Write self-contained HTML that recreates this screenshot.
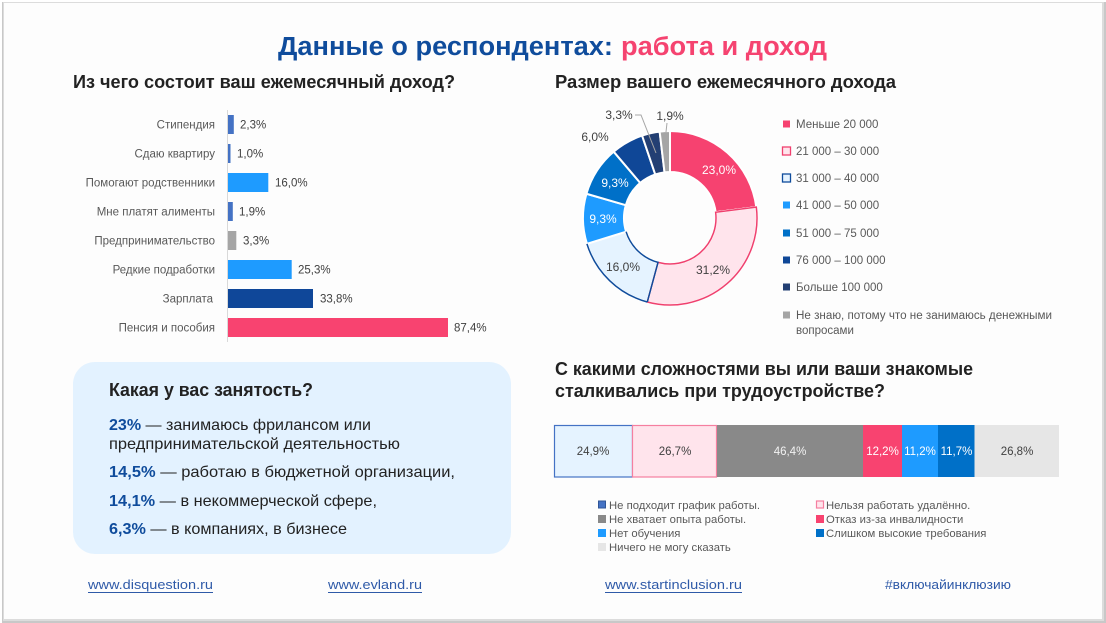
<!DOCTYPE html>
<html>
<head>
<meta charset="utf-8">
<style>
  html,body{margin:0;padding:0;background:#ffffff;}
  body{width:1106px;height:623px;overflow:hidden;}
  svg{display:block;}
  text{font-family:"Liberation Sans","Noto Sans CJK SC",sans-serif;}
</style>
</head>
<body>
<svg width="1106" height="623" viewBox="0 0 1106 623" xmlns="http://www.w3.org/2000/svg">
  <!-- slide frame / shadow -->
  <rect x="0" y="0" width="1106" height="623" fill="#ffffff"/>
  <rect x="2" y="2" width="1104" height="621" fill="#c8c8c8"/>
  <rect x="3" y="2" width="1101" height="619" fill="#dcdcdc"/>
  <rect x="4" y="3" width="1098" height="616" fill="#fdfdfd"/>

  <!-- Title -->
  <text x="278" y="55" font-size="25.5" font-weight="bold" fill="#0f4c9c" textLength="335" lengthAdjust="spacingAndGlyphs">Данные о респондентах:</text>
  <text x="621" y="55" font-size="25.5" font-weight="bold" fill="#f54370" textLength="206" lengthAdjust="spacingAndGlyphs">работа и доход</text>

  <!-- Section headings -->
  <text x="73" y="88" font-size="18" font-weight="bold" fill="#222222" textLength="382" lengthAdjust="spacingAndGlyphs">Из чего состоит ваш ежемесячный доход?</text>
  <text x="555" y="88" font-size="18" font-weight="bold" fill="#222222" textLength="341" lengthAdjust="spacingAndGlyphs">Размер вашего ежемесячного дохода</text>
  <text x="555" y="375" font-size="18" font-weight="bold" fill="#222222" textLength="418" lengthAdjust="spacingAndGlyphs">С какими сложностями вы или ваши знакомые</text>
  <text x="555" y="397" font-size="18" font-weight="bold" fill="#222222" textLength="330" lengthAdjust="spacingAndGlyphs">сталкивались при трудоустройстве?</text>

  <!-- Bar chart -->
  <line x1="227.5" y1="110" x2="227.5" y2="342" stroke="#d9d9d9" stroke-width="1"/>
  <g font-size="11.5" fill="#595959" text-anchor="end">
    <text x="215" y="128.5">Стипендия</text>
    <text x="215" y="157.5">Сдаю квартиру</text>
    <text x="215" y="186.5">Помогают родственники</text>
    <text x="215" y="215.5">Мне платят алименты</text>
    <text x="215" y="244.5">Предпринимательство</text>
    <text x="215" y="273.5">Редкие подработки</text>
    <text x="213" y="302.5">Зарплата</text>
    <text x="215" y="331.5">Пенсия и пособия</text>
  </g>
  <rect x="228" y="115" width="5.8" height="19" fill="#4472c4"/>
  <rect x="228" y="144" width="2.5" height="19" fill="#4472c4"/>
  <rect x="228" y="173" width="40.3" height="19" fill="#1e9bff"/>
  <rect x="228" y="202" width="4.8" height="19" fill="#4472c4"/>
  <rect x="228" y="231" width="8.3" height="19" fill="#a5a5a5"/>
  <rect x="228" y="260" width="63.7" height="19" fill="#1e9bff"/>
  <rect x="228" y="289" width="85" height="19" fill="#0f4799"/>
  <rect x="228" y="318" width="220" height="19" fill="#f84370"/>
  <g font-size="11.5" fill="#404040">
    <text x="240" y="128.5">2,3%</text>
    <text x="237" y="157.5">1,0%</text>
    <text x="275" y="186.5">16,0%</text>
    <text x="239" y="215.5">1,9%</text>
    <text x="243" y="244.5">3,3%</text>
    <text x="298" y="273.5">25,3%</text>
    <text x="320" y="302.5">33,8%</text>
    <text x="454" y="331.5">87,4%</text>
  </g>

  <!-- Employment box -->
  <rect x="73" y="362" width="438" height="192" rx="22" ry="22" fill="#e3f2ff"/>
  <text x="109" y="396" font-size="18" font-weight="bold" fill="#222222" textLength="204" lengthAdjust="spacingAndGlyphs">Какая у вас занятость?</text>
  <g font-size="16" fill="#222222">
    <text x="109" y="430" textLength="262" lengthAdjust="spacingAndGlyphs"><tspan font-weight="bold" fill="#0f4c9c">23%</tspan> — занимаюсь фрилансом или</text>
    <text x="109" y="449" textLength="291" lengthAdjust="spacingAndGlyphs">предпринимательской деятельностью</text>
    <text x="109" y="477" textLength="346" lengthAdjust="spacingAndGlyphs"><tspan font-weight="bold" fill="#0f4c9c">14,5%</tspan> — работаю в бюджетной организации,</text>
    <text x="109" y="506" textLength="268" lengthAdjust="spacingAndGlyphs"><tspan font-weight="bold" fill="#0f4c9c">14,1%</tspan> — в некоммерческой сфере,</text>
    <text x="109" y="534" textLength="238" lengthAdjust="spacingAndGlyphs"><tspan font-weight="bold" fill="#0f4c9c">6,3%</tspan> — в компаниях, в бизнесе</text>
  </g>

  <!-- Donut -->
  <g stroke="#ffffff" stroke-width="2" stroke-linejoin="round">
    <path d="M670,131 A87,87 0 0 1 756.31,207.10 L715.64,212.23 A46,46 0 0 0 670,172 Z" fill="#f64270"/>
    <path d="M756.31,207.10 A87,87 0 0 1 647.31,301.99 L658.00,262.41 A46,46 0 0 0 715.64,212.23 Z" fill="#ffe4ec"/>
    <path d="M647.31,301.99 A87,87 0 0 1 586.93,243.85 L626.08,231.67 A46,46 0 0 0 658.00,262.41 Z" fill="#e5f3ff"/>
    <path d="M586.93,243.85 A87,87 0 0 1 586.45,193.73 L625.83,205.17 A46,46 0 0 0 626.08,231.67 Z" fill="#1e9bff"/>
    <path d="M586.45,193.73 A87,87 0 0 1 613.71,151.67 L640.24,182.93 A46,46 0 0 0 625.83,205.17 Z" fill="#0070c8"/>
    <path d="M613.71,151.67 A87,87 0 0 1 642.08,135.60 L655.24,174.43 A46,46 0 0 0 640.24,182.93 Z" fill="#0f4797"/>
    <path d="M642.08,135.60 A87,87 0 0 1 659.64,131.62 L664.52,172.33 A46,46 0 0 0 655.24,174.43 Z" fill="#233f73"/>
    <path d="M659.64,131.62 A87,87 0 0 1 670,131 L670,172 A46,46 0 0 0 664.52,172.33 Z" fill="#a5a5a5"/>
  </g>
  <path d="M756.31,207.10 A87,87 0 0 1 647.31,301.99 L658.00,262.41 A46,46 0 0 0 715.64,212.23 Z" fill="none" stroke="#f0406e" stroke-width="1.5"/>
  <path d="M647.31,301.99 A87,87 0 0 1 586.93,243.85 M626.08,231.67 A46,46 0 0 0 658.00,262.41 L647.31,301.99" fill="none" stroke="#0f4c9c" stroke-width="1.5"/>
  <!-- leader lines -->
  <polyline points="635,115 641,115 656,153" fill="none" stroke="#a6a6a6" stroke-width="1"/>
  <line x1="667" y1="123" x2="666" y2="132" stroke="#a6a6a6" stroke-width="1"/>
  <g font-size="12" text-anchor="middle">
    <text x="719" y="174" fill="#ffffff">23,0%</text>
    <text x="713" y="274" fill="#404040">31,2%</text>
    <text x="623" y="271" fill="#404040">16,0%</text>
    <text x="603" y="223" fill="#ffffff">9,3%</text>
    <text x="615" y="187" fill="#ffffff">9,3%</text>
    <text x="595" y="141" fill="#404040">6,0%</text>
    <text x="619" y="119" fill="#404040">3,3%</text>
    <text x="670" y="120" fill="#404040">1,9%</text>
  </g>

  <!-- Donut legend -->
  <rect x="783" y="120.5" width="7" height="7" fill="#f64270"/>
  <rect x="782.5" y="147" width="8" height="8" fill="#ffe4ec" stroke="#f0406e" stroke-width="1.3"/>
  <rect x="782.5" y="174" width="8" height="8" fill="#e5f3ff" stroke="#0f4c9c" stroke-width="1.3"/>
  <rect x="783" y="201.5" width="7" height="7" fill="#1e9bff"/>
  <rect x="783" y="229.5" width="7" height="7" fill="#0070c8"/>
  <rect x="783" y="256.5" width="7" height="7" fill="#0f4797"/>
  <rect x="783" y="283.5" width="7" height="7" fill="#233f73"/>
  <rect x="783" y="311.5" width="7" height="7" fill="#a5a5a5"/>
  <g font-size="11.5" fill="#595959">
    <text x="796" y="128">Меньше 20 000</text>
    <text x="796" y="155">21 000 – 30 000</text>
    <text x="796" y="182">31 000 – 40 000</text>
    <text x="796" y="209">41 000 – 50 000</text>
    <text x="796" y="237">51 000 – 75 000</text>
    <text x="796" y="264">76 000 – 100 000</text>
    <text x="796" y="291">Больше 100 000</text>
    <text x="796" y="319" textLength="256" lengthAdjust="spacingAndGlyphs">Не знаю, потому что не занимаюсь денежными</text>
    <text x="796" y="334">вопросами</text>
  </g>

  <!-- Stacked bar -->
  <rect x="554.5" y="425.5" width="78" height="51.5" fill="#e5f3ff" stroke="#4472c4" stroke-width="1.2"/>
  <rect x="632.5" y="425.5" width="84" height="51.5" fill="#ffe4ec" stroke="#f57fa0" stroke-width="1.2"/>
  <rect x="717" y="425" width="146" height="52" fill="#898989"/>
  <rect x="863" y="425" width="39" height="52" fill="#f84370"/>
  <rect x="902" y="425" width="36" height="52" fill="#1e9bff"/>
  <rect x="938" y="425" width="36.5" height="52" fill="#0070c8"/>
  <rect x="974.5" y="425" width="84.5" height="52" fill="#e6e6e6"/>
  <g font-size="11.5" text-anchor="middle">
    <text x="593" y="455" fill="#404040">24,9%</text>
    <text x="675" y="455" fill="#404040">26,7%</text>
    <text x="790" y="455" fill="#f2f2f2">46,4%</text>
    <text x="882.5" y="455" fill="#ffffff">12,2%</text>
    <text x="920" y="455" fill="#ffffff">11,2%</text>
    <text x="956.5" y="455" fill="#ffffff">11,7%</text>
    <text x="1017" y="455" fill="#404040">26,8%</text>
  </g>

  <!-- Stacked legend -->
  <rect x="598.5" y="501" width="7" height="7" fill="#4472c4" stroke="#2f5597" stroke-width="1"/>
  <rect x="598" y="515" width="8" height="8" fill="#898989"/>
  <rect x="598" y="529" width="8" height="8" fill="#1e9bff"/>
  <rect x="598" y="543" width="8" height="8" fill="#e6e6e6"/>
  <rect x="816.5" y="501" width="7" height="7" fill="#ffe4ec" stroke="#f57fa0" stroke-width="1.2"/>
  <rect x="816" y="515" width="8" height="8" fill="#f84370"/>
  <rect x="816" y="529" width="8" height="8" fill="#0070c8"/>
  <g font-size="11.3" fill="#595959">
    <text x="609" y="509">Не подходит график работы.</text>
    <text x="609" y="523">Не хватает опыта работы.</text>
    <text x="609" y="537">Нет обучения</text>
    <text x="609" y="551">Ничего не могу сказать</text>
    <text x="826" y="509">Нельзя работать удалённо.</text>
    <text x="826" y="523">Отказ из-за инвалидности</text>
    <text x="826" y="537">Слишком высокие требования</text>
  </g>

  <!-- Footer -->
  <g font-size="13" fill="#2f5aa8">
    <text x="88" y="589" textLength="125" lengthAdjust="spacingAndGlyphs">www.disquestion.ru</text>
    <text x="328" y="589" textLength="94" lengthAdjust="spacingAndGlyphs">www.evland.ru</text>
    <text x="605" y="589" textLength="137" lengthAdjust="spacingAndGlyphs">www.startinclusion.ru</text>
    <text x="885" y="589" textLength="126" lengthAdjust="spacingAndGlyphs">#включайинклюзию</text>
  </g>
  <g stroke="#2f5aa8" stroke-width="1">
    <line x1="88" y1="592.5" x2="213" y2="592.5"/>
    <line x1="328" y1="592.5" x2="422" y2="592.5"/>
    <line x1="605" y1="592.5" x2="742" y2="592.5"/>
  </g>
</svg>
</body>
</html>
